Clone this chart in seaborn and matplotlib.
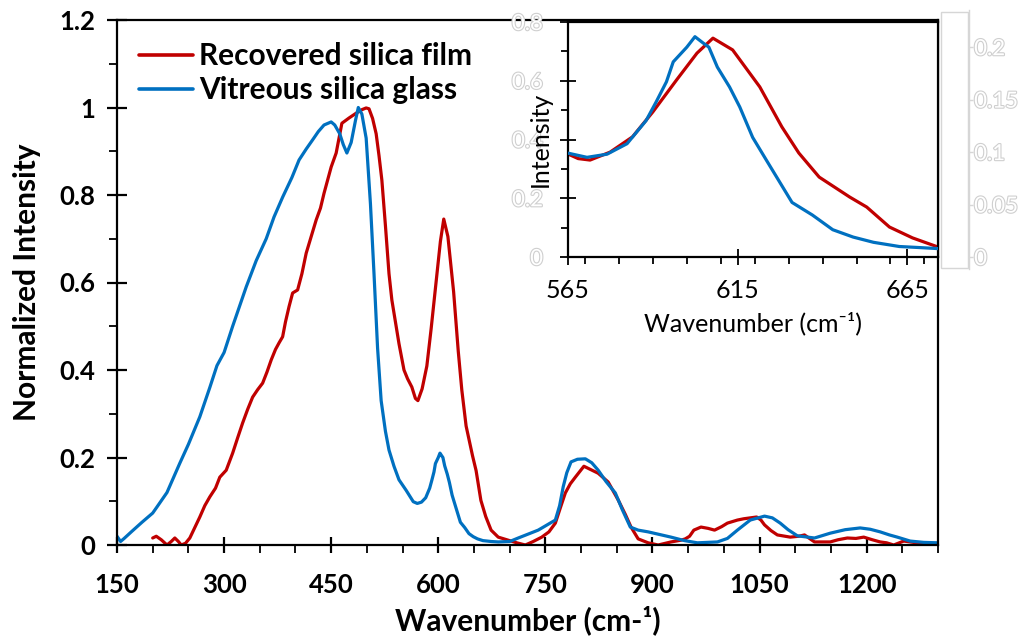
import matplotlib
matplotlib.use("Agg")
import matplotlib.pyplot as plt
import matplotlib.patheffects as pe
from matplotlib.patches import Rectangle
from matplotlib.ticker import MultipleLocator, FixedLocator
import seaborn as sns
import pandas as pd

# ---- spectra -------------------------------------------------------------
film_wn = [200, 205, 212, 220, 226, 231, 236, 240, 246, 252, 259, 266, 273, 280, 288,
           294, 303, 312, 319, 326, 333, 340, 347, 354, 360, 366, 372, 377, 382, 386,
           391, 396, 403, 409, 415, 422, 429, 435, 440, 450, 457, 461, 465, 475, 485,
           493, 499, 503, 508, 513, 517, 521, 526, 531, 535, 540, 545, 552, 557, 563,
           568, 571.5, 577.4, 584, 590, 597, 603, 607.7, 613.5, 621.5, 628, 633, 639,
           648, 653, 659.7, 666.5, 674, 684, 698, 710, 722, 733, 745, 755, 764, 771,
           778, 785, 792, 804, 814, 824, 838, 852, 862, 870, 880, 894, 908, 926, 940,
           946, 952, 958, 968, 978, 987, 997, 1005, 1019, 1028, 1037, 1046, 1052, 1057,
           1066, 1075, 1093, 1105, 1113, 1120, 1127, 1149, 1160, 1173, 1185, 1196, 1208,
           1219, 1228, 1238, 1252, 1270, 1285, 1300]
film_int = [0.016, 0.02, 0.012, 0.0, 0.008, 0.016, 0.008, 0.0, 0.004, 0.016, 0.04, 0.064,
            0.09, 0.11, 0.13, 0.155, 0.171, 0.21, 0.245, 0.279, 0.31, 0.338, 0.355, 0.37,
            0.395, 0.423, 0.447, 0.462, 0.476, 0.51, 0.545, 0.576, 0.583, 0.62, 0.667,
            0.705, 0.743, 0.77, 0.804, 0.864, 0.896, 0.93, 0.964, 0.976, 0.987, 0.995,
            0.999, 0.997, 0.975, 0.94, 0.89, 0.834, 0.73, 0.62, 0.56, 0.51, 0.46, 0.40,
            0.38, 0.361, 0.335, 0.33, 0.357, 0.409, 0.494, 0.603, 0.694, 0.745, 0.705,
            0.579, 0.443, 0.354, 0.272, 0.204, 0.17, 0.102, 0.065, 0.034, 0.018, 0.011,
            0.005, 0.0, 0.008, 0.018, 0.03, 0.05, 0.085, 0.119, 0.14, 0.155, 0.18, 0.172,
            0.164, 0.144, 0.103, 0.07, 0.041, 0.014, 0.005, 0.0, 0.007, 0.011, 0.014,
            0.02, 0.034, 0.041, 0.038, 0.034, 0.042, 0.05, 0.057, 0.06, 0.062, 0.064,
            0.057, 0.046, 0.033, 0.023, 0.018, 0.02, 0.023, 0.015, 0.007, 0.007, 0.012,
            0.016, 0.015, 0.018, 0.012, 0.007, 0.005, 0.0, 0.009, 0.005, 0.003, 0.002]

glass_wn = [150, 155, 160, 170, 185, 200, 206, 220, 238, 250, 266, 280, 290, 300, 312,
            331, 345, 359, 370, 382, 395, 405, 415, 424, 432, 440, 450, 455, 462, 467,
            472, 478, 484, 488, 493, 499, 505, 510, 515, 520, 526, 531, 538, 545, 555,
            565, 570.6, 576.5, 582.4, 588, 591, 594, 596, 600, 602.4, 604.8, 606.5, 609,
            612.6, 615.6, 619.4, 623.5, 626.5, 631, 637, 643, 649, 655, 662.6, 668.5, 674,
            684, 700, 712, 740, 764, 770, 775, 780, 786, 795, 806, 815, 824, 835, 848,
            858, 869, 880, 894, 910, 926, 945, 963, 991, 1005, 1019, 1037, 1057, 1068,
            1079, 1090, 1103, 1127, 1149, 1170, 1191, 1205, 1219, 1232, 1243, 1261, 1280,
            1300]
glass_int = [0.02, 0.008, 0.015, 0.03, 0.052, 0.073, 0.087, 0.12, 0.187, 0.23, 0.293,
             0.36, 0.41, 0.44, 0.50, 0.59, 0.65, 0.70, 0.75, 0.795, 0.84, 0.88, 0.905,
             0.926, 0.945, 0.96, 0.967, 0.96, 0.94, 0.915, 0.896, 0.92, 0.97, 1.0, 0.985,
             0.93, 0.78, 0.62, 0.45, 0.33, 0.26, 0.217, 0.18, 0.149, 0.125, 0.099, 0.095,
             0.098, 0.108, 0.130, 0.148, 0.167, 0.186, 0.2, 0.21, 0.204, 0.2, 0.181,
             0.162, 0.143, 0.114, 0.092, 0.076, 0.052, 0.040, 0.026, 0.019, 0.014, 0.010,
             0.009, 0.008, 0.007, 0.008, 0.016, 0.034, 0.057, 0.09, 0.133, 0.165, 0.19,
             0.196, 0.197, 0.188, 0.171, 0.145, 0.119, 0.08, 0.041, 0.034, 0.030, 0.024,
             0.018, 0.01, 0.005, 0.007, 0.015, 0.034, 0.057, 0.066, 0.062, 0.05, 0.035,
             0.021, 0.016, 0.027, 0.035, 0.039, 0.036, 0.03, 0.023, 0.018, 0.009, 0.006,
             0.005]

series_names = ["Recovered silica film", "Vitreous silica glass"]
series_colors = ["#C00000", "#0070C0"]

main_xticks = [150, 300, 450, 600, 750, 900, 1050, 1200]
main_yticks = [0, 0.2, 0.4, 0.6, 0.8, 1.0, 1.2]
main_ylabels = ["0", "0.2", "0.4", "0.6", "0.8", "1", "1.2"]
inset_xticks = [565, 615, 665]
inset_yticks = [0, 0.2, 0.4, 0.6, 0.8]
inset_ylabels = ["0", "0.2", "0.4", "0.6", "0.8"]
inset_y2ticks = [0, 0.05, 0.1, 0.15, 0.2]
inset_y2labels = ["0", "0.05", "0.1", "0.15", "0.2"]

film = pd.DataFrame({"wn": film_wn, "I": film_int})
glass = pd.DataFrame({"wn": glass_wn, "I": glass_int})

# ---- style ---------------------------------------------------------------
sns.set_theme(style="ticks")
plt.rcParams["font.family"] = ["Lato", "DejaVu Sans"]
plt.rcParams["axes.linewidth"] = 1.6
plt.rcParams["text.color"] = "black"
plt.rcParams["axes.labelcolor"] = "black"

W, H = 1020, 640
fig = plt.figure(figsize=(W / 100, H / 100), dpi=100)


def px_axes(l, t, r, b):
    return fig.add_axes([l / W, 1 - b / H, (r - l) / W, (b - t) / H])


# ---- main panel ----------------------------------------------------------
ax = px_axes(117, 20, 938, 545)
lw = 2.3
sns.lineplot(data=film, x="wn", y="I", ax=ax, color=series_colors[0], lw=lw,
             sort=False, estimator=None, label=series_names[0])
sns.lineplot(data=glass, x="wn", y="I", ax=ax, color=series_colors[1], lw=lw,
             sort=False, estimator=None, label=series_names[1])
ax.set_xlim(150, 1300)
ax.set_ylim(0, 1.2)
ax.xaxis.set_major_locator(FixedLocator(main_xticks))
ax.xaxis.set_minor_locator(MultipleLocator(50))
ax.yaxis.set_major_locator(FixedLocator(main_yticks))
ax.yaxis.set_minor_locator(MultipleLocator(0.1))
ax.set_yticklabels(main_ylabels)
for s in ax.spines.values():
    s.set_color("black")
    s.set_linewidth(1.6)
ax.tick_params(axis="x", which="major", direction="inout", length=12, width=1.6,
               pad=14, labelsize=18.5, colors="black")
ax.tick_params(axis="x", which="minor", direction="out", length=5.5, width=1.3,
               colors="black")
ax.tick_params(axis="y", which="major", direction="inout", length=15, width=1.6,
               pad=8, labelsize=18.5, colors="black")
ax.tick_params(axis="y", which="minor", direction="out", length=6, width=1.3,
               colors="black")
for t in ax.get_xticklabels() + ax.get_yticklabels():
    t.set_fontweight("bold")
ax.set_xlabel("Wavenumber (cm-¹)", fontsize=21.5, fontweight="bold", labelpad=6,
              color="black")
ax.set_ylabel("Normalized Intensity", fontsize=21.5, fontweight="bold", labelpad=13,
              color="black")
leg = ax.legend(loc="upper left", bbox_to_anchor=(0.0, 1.0), frameon=False,
                prop={"size": 21.5, "weight": "bold"}, handlelength=1.8,
                handletextpad=0.2, labelspacing=0.2, borderaxespad=0.35)
for h in leg.get_lines():
    h.set_linewidth(2.6)
for t in leg.get_texts():
    t.set_color("black")

# ---- inset ---------------------------------------------------------------
ins = px_axes(568, 22, 938, 257)
ins.set_facecolor("white")
ins_film = film[(film.wn >= 560) & (film.wn <= 680)]
ins_glass = glass[(glass.wn >= 560) & (glass.wn <= 680)]
sns.lineplot(data=ins_film, x="wn", y="I", ax=ins, color=series_colors[0], lw=lw,
             sort=False, estimator=None, legend=False)
ins.set_xlim(565, 674)
ins.set_ylim(0, 0.8)
ins.xaxis.set_major_locator(FixedLocator(inset_xticks))
ins.xaxis.set_minor_locator(MultipleLocator(10))
ins.yaxis.set_major_locator(FixedLocator(inset_yticks))
ins.yaxis.set_minor_locator(MultipleLocator(0.1))
ins.set_yticklabels(inset_ylabels)
for s in ins.spines.values():
    s.set_color("black")
    s.set_linewidth(1.6)
ins.tick_params(axis="x", which="major", direction="inout", length=12, width=1.3,
                pad=10, labelsize=18, colors="black")
ins.tick_params(axis="x", which="minor", direction="out", length=5, width=1.3,
                colors="black")
ins.tick_params(axis="y", which="major", direction="inout", length=12, width=1.3,
                pad=12, labelsize=16, colors="black")
ins.tick_params(axis="y", which="minor", direction="out", length=5, width=1.3,
                colors="black")
ghost = [pe.withStroke(linewidth=1.6, foreground="#cfcfcf")]
for t in ins.get_yticklabels():
    t.set_color("white")
    t.set_path_effects(ghost)
ins.set_xlabel("Wavenumber (cm⁻¹)", fontsize=18, labelpad=7, color="black")
ins.set_ylabel("Intensity", fontsize=18, labelpad=-29, color="black")

# secondary scale for the glass spectrum
ins2 = ins.twinx()
sns.lineplot(data=ins_glass, x="wn", y="I", ax=ins2, color=series_colors[1], lw=lw,
             sort=False, estimator=None, legend=False)
ins2.set_ylim(0, 0.224)
ins2.set_xlim(565, 674)
ins2.yaxis.set_major_locator(FixedLocator(inset_y2ticks))
ins2.set_yticklabels(inset_y2labels)
ins2.set_ylabel("")
for k in ("top", "left", "bottom"):
    ins2.spines[k].set_visible(False)
ins2.spines["right"].set_position(("outward", 22))
ins2.spines["right"].set_color("#d6d6d6")
ins2.spines["right"].set_linewidth(1.0)
ins2.spines["right"].set_bounds(-0.011, 0.235)
ins2.tick_params(axis="y", direction="out", length=3, width=1.0, color="#d6d6d6",
                 pad=1, labelsize=16)
for t in ins2.get_yticklabels():
    t.set_color("white")
    t.set_path_effects(ghost)
fig.add_artist(Rectangle((941 / W, 1 - 268 / H), 27 / W, 256 / H,
                         transform=fig.transFigure, fill=False,
                         edgecolor="#d6d6d6", lw=1.0))

fig.savefig("out.png", dpi=100)
